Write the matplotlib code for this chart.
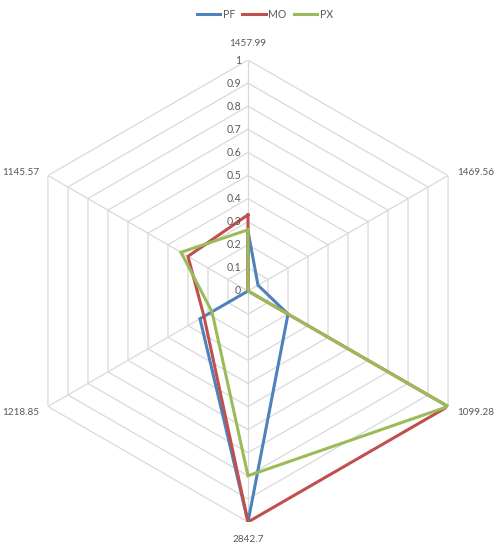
import numpy as np
import matplotlib
matplotlib.use("Agg")
import matplotlib.pyplot as plt

plt.rcParams['font.family'] = ['Lato', 'DejaVu Sans']

categories = ["1457.99", "1469.56", "1099.28", "2842.7", "1218.85", "1145.57"]
series_names = ["PF", "MO", "PX"]
pf = [0.26, 0.05, 0.20, 1.00, 0.24, 0.00]
mo = [0.33, 0.00, 1.00, 1.00, 0.22, 0.30]
px = [0.265, 0.00, 1.00, 0.80, 0.18, 0.335]
series = [pf, mo, px]
colors = ["#4F81BD", "#C0504D", "#9BBB59"]
ticks = [0, 0.1, 0.2, 0.3, 0.4, 0.5, 0.6, 0.7, 0.8, 0.9, 1]
tick_labels = ["0", "0.1", "0.2", "0.3", "0.4", "0.5", "0.6", "0.7", "0.8", "0.9", "1"]

W, H = 497, 550
fig = plt.figure(figsize=(W / 100, H / 100), dpi=100)
cx, cy, R = 248, 291, 231
ax = fig.add_axes([(cx - R) / W, 1 - (cy + R) / H, 2 * R / W, 2 * R / H], projection='polar')
ax.set_theta_zero_location('N')
ax.set_theta_direction(-1)
ax.set_ylim(0, 1)
ax.grid(False)
ax.set_xticks([])
ax.set_yticks([])
ax.spines['polar'].set_visible(False)
ax.patch.set_visible(False)

n = len(categories)
theta = np.linspace(0, 2 * np.pi, n, endpoint=False)
theta_c = np.append(theta, theta[0])

grid_col = "#D9D9D9"
for t in ticks[1:]:
    ax.plot(theta_c, [t] * (n + 1), color=grid_col, lw=0.9, zorder=1)
for th in theta:
    ax.plot([th, th], [0, 1], color=grid_col, lw=0.9, zorder=1)

for vals, name, col in zip(series, series_names, colors):
    v = np.append(vals, vals[0])
    ax.plot(theta_c, v, color=col, lw=2.2, label=name, zorder=3, solid_joinstyle='miter')

txt_col = "#595959"
fs = 7.6
cat_fs = 7.2
for t, lab in zip(ticks, tick_labels):
    ax.annotate(lab, xy=(0, t), xytext=(-7, 0), textcoords='offset pixels',
                ha='right', va='center', fontsize=fs, color=txt_col, zorder=4)

offsets = [(0, 17, 'center', 'center'), (9, 3, 'left', 'center'), (9, -6, 'left', 'center'),
           (0, -18, 'center', 'center'), (-9, -6, 'right', 'center'), (-9, 3, 'right', 'center')]
for th, lab, (dx, dy, ha, va) in zip(theta, categories, offsets):
    ax.annotate(lab, xy=(th, 1), xytext=(dx, dy), textcoords='offset pixels',
                ha=ha, va=va, fontsize=cat_fs, color=txt_col)

handles, labels = ax.get_legend_handles_labels()
fig.legend(handles, labels, loc='center', bbox_to_anchor=(265 / W, 1 - 14 / H), ncol=3,
           frameon=False, fontsize=fs, handlelength=2.2, handletextpad=0.25,
           columnspacing=0.7, labelcolor=txt_col)

fig.savefig("out.png", dpi=100, facecolor='white')
